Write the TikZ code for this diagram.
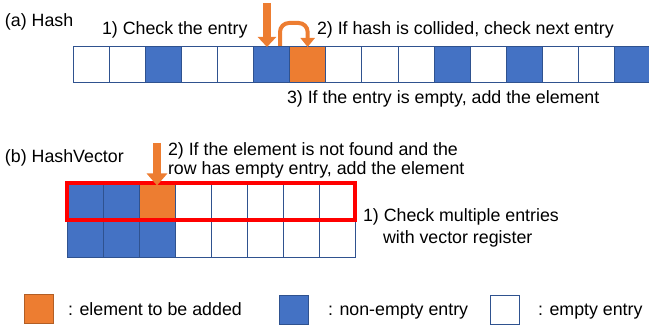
\documentclass[tikz,border=0pt]{standalone}
\usepackage{fontspec}
\setmainfont{Liberation Sans}
\usetikzlibrary{arrows.meta}
\definecolor{cellblue}{HTML}{4472C4}
\definecolor{cellorange}{HTML}{ED7D31}
\definecolor{celledge}{HTML}{2F528F}
\begin{document}
\begin{tikzpicture}[x=1pt,y=-1pt,
  font=\fontsize{17.8}{20}\selectfont,
  cell/.style={draw=celledge, line width=0.8pt, minimum width=36.1pt,
    minimum height=36pt, inner sep=0pt, outer sep=0pt},
  vcell/.style={cell, minimum width=36pt, minimum height=37pt},
  keybox/.style={draw=celledge, line width=0.8pt, minimum width=29pt,
    minimum height=29pt, inner sep=0pt, outer sep=0pt},
  label/.style={anchor=base west, inner sep=0pt, outer sep=0pt},
  blockarrow/.style={draw=cellorange, line width=7.5pt,
    -{Triangle[width=18pt, length=10pt]}},
  looparrow/.style={draw=cellorange, line width=4pt, rounded corners=9pt,
    -{Triangle[width=14pt, length=9pt]}}]
\useasboundingbox (0,0) rectangle (649,329);
\begin{scope}
\clip (0,0) rectangle (649,329);

% (a) linear-probing hash table
\node[label] (ta) at (5,27) {(a) Hash};
\foreach \i/\c in {0/white,1/white,2/cellblue,3/white,4/white,5/cellblue,
    6/cellorange,7/white,8/white,9/white,10/cellblue,11/white,12/cellblue,
    13/white,14/white,15/cellblue}
  \node[cell, fill=\c] (h\i) at ({91.05+36.1*\i},64) {};

\node[label] (a1) at (102,35) {1) Check the entry};
\node[label] (a2) at (317,35) {2) If hash is collided, check next entry};
\node[label] (a3) at (287,103) {3) If the entry is empty, add the element};

\coordinate (pa) at (267,3);
\draw[blockarrow] (pa) -- ([yshift=-1pt]pa |- h5.north);
\coordinate (la) at (280,46);
\draw[looparrow] (la) -- (280,23) -- (h6.north |- 0,23) -- ([yshift=-1pt]h6.north);

% (b) vectorised hash table
\node[label] (tb) at (5,163) {(b) HashVector};
\foreach \j/\c in {0/cellblue,1/cellblue,2/cellorange,3/white,4/white,
    5/white,6/white,7/white}
  \node[vcell, fill=\c] (r1c\j) at ({85+36*\j},201.5) {};
\foreach \j/\c in {0/cellblue,1/cellblue,2/cellblue,3/white,4/white,
    5/white,6/white,7/white}
  \node[vcell, fill=\c] (r2c\j) at ({85+36*\j},238.5) {};
\draw[red, line width=3.5pt] (r1c0.north west) rectangle (r1c7.south east);

\coordinate (pb) at (157,143);
\draw[blockarrow, line width=8pt, -{Triangle[width=20pt, length=12pt]}]
  (pb) -- ([yshift=-2.5pt]pb |- r1c2.north);

\node[label] (b2a) at (168,156) {2) If the element is not found and the};
\node[label] (b2b) at (168,175) {row has empty entry, add the element};
\node[label] (b1a) at (363,222) {1) Check multiple entries};
\node[label] (b1b) at (383,243) {with vector register};

% legend
\node[keybox, fill=cellorange, draw=cellorange!75!black] (ko) at (38.5,308.5) {};
\node[label] (lo) at (68,315) {: element to be added};
\node[keybox, fill=cellblue] (kb) at (294,309.5) {};
\node[label] (lb) at (328,315) {: non-empty entry};
\node[keybox, fill=white] (kw) at (505,309.5) {};
\node[label] (lw) at (538,315) {: empty entry};
\end{scope}
\end{tikzpicture}
\end{document}
